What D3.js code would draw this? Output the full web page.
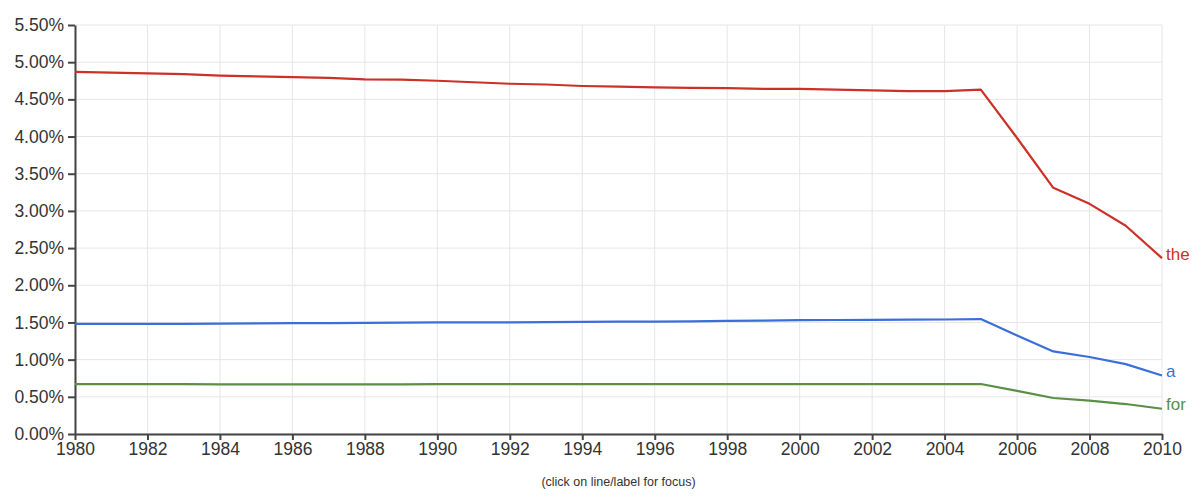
<!DOCTYPE html>
<html>
<head>
<meta charset="utf-8">
<script src="https://cdn.jsdelivr.net/npm/d3@7"></script>
<style>
  body { margin: 0; background: #fff; }
  text { font-family: "Liberation Sans", Arial, sans-serif; }
</style>
</head>
<body>
<svg id="chart" width="1200" height="502"></svg>
<script>
// values (percent)
const years = d3.range(1980, 2011)
const theValues = [4.87, 4.86, 4.85, 4.84, 4.82, 4.81, 4.80, 4.79, 4.77, 4.765, 4.75,
  4.73, 4.71, 4.70, 4.68, 4.67, 4.66, 4.655, 4.65, 4.64, 4.64, 4.63, 4.62, 4.61, 4.61,
  4.63, 3.98, 3.31, 3.095, 2.80, 2.365]
const aValues = [1.48, 1.48, 1.48, 1.482, 1.485, 1.487, 1.49, 1.492, 1.495, 1.497, 1.50,
  1.50, 1.502, 1.505, 1.508, 1.51, 1.512, 1.515, 1.52, 1.525, 1.53, 1.533, 1.536, 1.538, 1.54,
  1.545, 1.325, 1.11, 1.035, 0.94, 0.787]
const forValues = [0.672, 0.672, 0.671, 0.67, 0.668, 0.667, 0.667, 0.667, 0.667, 0.668, 0.67,
  0.67, 0.67, 0.67, 0.67, 0.67, 0.67, 0.67, 0.67, 0.67, 0.671, 0.67, 0.671, 0.67, 0.67,
  0.672, 0.58, 0.484, 0.45, 0.403, 0.34]
const seriesNames = ['the', 'a', 'for']
const seriesColors = ['#cc3128', '#3a6fdb', '#5b8f45']
const yTicks = d3.range(0, 5.51, 0.5)
const xTicks = d3.range(1980, 2011, 2)

const series = [theValues, aValues, forValues].map((vals, i) => ({
  name: seriesNames[i],
  color: seriesColors[i],
  points: vals.map((v, j) => ({ year: years[j], value: v }))
}))

const svg = d3.select('#chart')
const margin = { left: 75, right: 38, top: 25, bottom: 68 }
const width = 1200
const height = 502

const x = d3.scaleLinear().domain([1980, 2010]).range([margin.left, width - margin.right])
const y = d3.scaleLinear().domain([0, 5.5]).range([height - margin.bottom, margin.top])

// grid
svg.append('g')
  .selectAll('line.h')
  .data(yTicks)
  .enter()
  .append('line')
  .attr('x1', margin.left).attr('x2', x(2010))
  .attr('y1', d => y(d)).attr('y2', d => y(d))
  .attr('stroke', '#e6e6e6').attr('stroke-width', 1)
svg.append('g')
  .selectAll('line.v')
  .data(xTicks)
  .enter()
  .append('line')
  .attr('x1', d => x(d)).attr('x2', d => x(d))
  .attr('y1', y(5.5)).attr('y2', y(0))
  .attr('stroke', '#e6e6e6').attr('stroke-width', 1)

// axes
const yAxis = svg.append('g')
  .attr('transform', `translate(${margin.left},0)`)
  .call(d3.axisLeft(y).tickValues(yTicks).tickFormat(d => d.toFixed(2) + '%').tickSize(7).tickSizeOuter(0))
const xAxis = svg.append('g')
  .attr('transform', `translate(0,${y(0)})`)
  .call(d3.axisBottom(x).tickValues(xTicks).tickFormat(d3.format('d')).tickSize(6).tickSizeOuter(0))

for (const ax of [yAxis, xAxis]) {
  ax.select('.domain').attr('stroke', '#444').attr('stroke-width', 2)
  ax.selectAll('.tick line').attr('stroke', '#444').attr('stroke-width', 2)
  ax.selectAll('.tick text')
    .attr('fill', '#333')
    .style('font-size', '17.5px')
    .style('font-family', '"Liberation Sans", Arial, sans-serif')
}
yAxis.selectAll('.tick text').attr('x', -11)
xAxis.selectAll('.tick text').attr('y', 9)

// lines
const line = d3.line().x(d => x(d.year)).y(d => y(d.value))
svg.append('g')
  .selectAll('path')
  .data(series)
  .enter()
  .append('path')
  .attr('d', d => line(d.points))
  .attr('fill', 'none')
  .attr('stroke', d => d.color)
  .attr('stroke-width', 2.2)
  .attr('stroke-linejoin', 'round')

// end labels
svg.append('g')
  .selectAll('text')
  .data(series)
  .enter()
  .append('text')
  .attr('x', x(2010) + 4)
  .attr('y', d => y(d.points[d.points.length - 1].value) - 3)
  .attr('dominant-baseline', 'middle')
  .attr('fill', d => d.color)
  .style('font-size', '17px')
  .text(d => d.name)

svg.append('text')
  .attr('x', x(1995))
  .attr('y', 486)
  .attr('text-anchor', 'middle')
  .attr('fill', '#333')
  .style('font-size', '12.5px')
  .text('(click on line/label for focus)')
</script>
</body>
</html>
